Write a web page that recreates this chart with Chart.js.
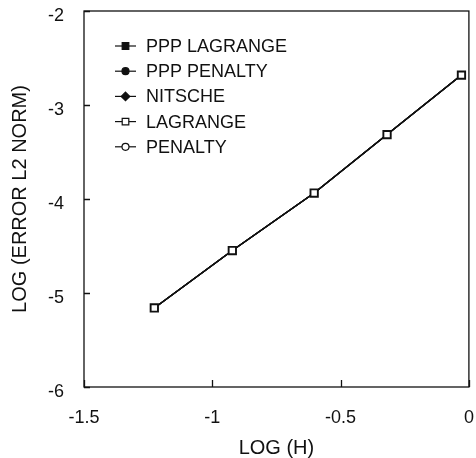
<!DOCTYPE html>
<html>
<head>
<meta charset="utf-8">
<script src="https://cdn.jsdelivr.net/npm/chart.js@4/dist/chart.umd.min.js"></script>
<style>
  html, body { margin: 0; padding: 0; background: #fff; }
</style>
</head>
<body>
<canvas id="errChart" width="476" height="458"></canvas>
<script>
// log(h) for the five meshes
const logH = [-1.226, -0.922, -0.603, -0.319, -0.029];

// log(error L2 norm), one array per method (all curves lie on top of each other)
const pppLagrange = [-5.159, -4.548, -3.937, -3.315, -2.682];
const pppPenalty = [-5.159, -4.548, -3.937, -3.315, -2.682];
const nitsche = [-5.159, -4.548, -3.937, -3.315, -2.682];
const lagrange = [-5.159, -4.548, -3.937, -3.315, -2.682];
const penalty = [-5.159, -4.548, -3.937, -3.315, -2.682];

const seriesNames = ["PPP LAGRANGE", "PPP PENALTY", "NITSCHE", "LAGRANGE", "PENALTY"];
const xTicks = [-1.5, -1, -0.5, 0];
const yTicks = [-6, -5, -4, -3, -2];

const INK = "#111";
const FONT = "'Liberation Sans', Arial, Helvetica, sans-serif";

function toPoints(ys) {
  return logH.map((x, i) => ({ x: x, y: ys[i] }));
}

function makeSet(label, ys, style, filled, radius, order) {
  return {
    label: label,
    data: toPoints(ys),
    borderColor: INK,
    borderWidth: 1.3,
    pointStyle: style,
    pointRadius: radius,
    pointBorderWidth: filled ? 1 : 1.9,
    pointBorderColor: INK,
    pointBackgroundColor: filled ? INK : "#fff",
    legendFilled: filled,
    order: order,
  };
}

// small marker painter for the legend
function marker(ctx, style, filled, x, y) {
  ctx.save();
  ctx.fillStyle = filled ? INK : "#fff";
  ctx.strokeStyle = INK;
  ctx.lineWidth = 1.2;
  ctx.beginPath();
  if (style === "rect") {
    ctx.rect(x - 3.3, y - 3.3, 6.6, 6.6);
  } else if (style === "circle") {
    ctx.arc(x, y, 3.5, 0, Math.PI * 2);
  } else {
    ctx.moveTo(x, y - 4.3);
    ctx.lineTo(x + 4.3, y);
    ctx.lineTo(x, y + 4.3);
    ctx.lineTo(x - 4.3, y);
    ctx.closePath();
  }
  ctx.fill();
  ctx.stroke();
  ctx.restore();
}

const framePlugin = {
  id: "frame",
  afterDatasetsDraw(chart) {
    const { ctx, chartArea: a, scales } = chart;
    ctx.save();
    ctx.strokeStyle = INK;
    ctx.lineWidth = 1.3;
    ctx.strokeRect(a.left, a.top, a.right - a.left, a.bottom - a.top);
    ctx.beginPath();
    xTicks.forEach((v) => {
      const px = Math.round(scales.x.getPixelForValue(v)) + 0.5;
      ctx.moveTo(px, a.bottom);
      ctx.lineTo(px, a.bottom - 7);
    });
    yTicks.forEach((v) => {
      const py = Math.round(scales.y.getPixelForValue(v)) + 0.5;
      ctx.moveTo(a.left, py);
      ctx.lineTo(a.left + 6, py);
    });
    ctx.stroke();
    ctx.restore();
  },
  afterDraw(chart) {
    const ctx = chart.ctx;
    ctx.save();
    ctx.font = "18px " + FONT;
    ctx.textBaseline = "middle";
    ctx.textAlign = "left";
    chart.data.datasets.forEach((ds, i) => {
      const y = 46 + i * 25.2;
      ctx.strokeStyle = INK;
      ctx.lineWidth = 1.2;
      ctx.beginPath();
      ctx.moveTo(115, y);
      ctx.lineTo(136, y);
      ctx.stroke();
      marker(ctx, ds.pointStyle, ds.legendFilled, 125.5, y);
      ctx.fillStyle = INK;
      ctx.fillText(ds.label, 146, y + 1);
    });
    ctx.restore();
  },
};

new Chart(document.getElementById("errChart"), {
  type: "line",
  data: {
    datasets: [
      makeSet(seriesNames[0], pppLagrange, "rect", true, 3.5, 1),
      makeSet(seriesNames[1], pppPenalty, "circle", true, 3, 1),
      makeSet(seriesNames[2], nitsche, "rectRot", true, 3.5, 1),
      makeSet(seriesNames[3], lagrange, "rect", false, 5.2, 0),
      makeSet(seriesNames[4], penalty, "circle", false, 3, 1),
    ],
  },
  options: {
    responsive: false,
    animation: false,
    layout: { padding: { left: 0, top: 11, right: 5, bottom: 0 } },
    plugins: {
      legend: { display: false },
      tooltip: { enabled: false },
    },
    scales: {
      x: {
        type: "linear",
        min: -1.5,
        max: 0,
        afterBuildTicks: (s) => { s.ticks = xTicks.map((v) => ({ value: v })); },
        afterFit: (s) => {
          s.height = 71;
          s.paddingLeft = 0;
          s.paddingRight = 0;
        },
        grid: { display: false, drawTicks: false },
        border: { display: false },
        ticks: {
          color: INK,
          padding: 20,
          maxRotation: 0,
          font: { family: FONT, size: 18 },
          callback: (v) => String(v),
        },
        title: {
          display: true,
          text: "LOG (H)",
          color: INK,
          padding: { top: 0, bottom: 0 },
          font: { family: FONT, size: 20, lineHeight: 1 },
        },
      },
      y: {
        type: "linear",
        min: -6,
        max: -2,
        afterBuildTicks: (s) => { s.ticks = yTicks.map((v) => ({ value: v })); },
        afterFit: (s) => {
          s.width = 84;
          s.paddingTop = 0;
          s.paddingBottom = 0;
        },
        grid: { display: false, drawTicks: false },
        border: { display: false },
        ticks: {
          color: INK,
          padding: 20,
          labelOffset: 5,
          font: { family: FONT, size: 18 },
          callback: (v) => String(v),
        },
        title: {
          display: true,
          text: "LOG (ERROR L2 NORM)",
          color: INK,
          padding: { top: 10, bottom: 0 },
          font: { family: FONT, size: 20, lineHeight: 1 },
        },
      },
    },
  },
  plugins: [framePlugin],
});
</script>
</body>
</html>
